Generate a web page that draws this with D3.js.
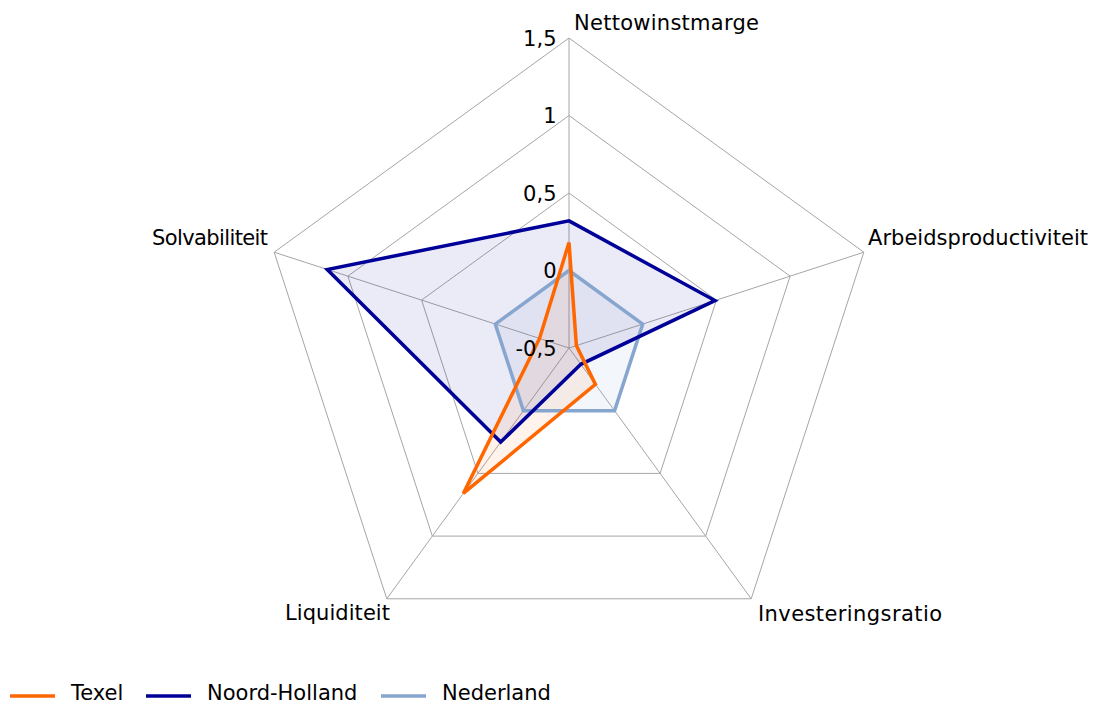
<!DOCTYPE html>
<html>
<head>
<meta charset="utf-8">
<script src="https://cdn.jsdelivr.net/npm/d3@7"></script>
<style>
  body { margin: 0; background: #fff; }
  text { font-family: "DejaVu Sans", Verdana, sans-serif; fill: #000; }
</style>
</head>
<body>
<svg></svg>
<script>
var axes = ["Nettowinstmarge", "Arbeidsproductiviteit", "Investeringsratio", "Liquiditeit", "Solvabiliteit"];
var texel = [0.18, -0.45, -0.21, 0.66, -0.30];
var noordHolland = [0.32, 0.49, -0.37, 0.25, 1.14];
var nederland = [0, 0, 0, 0, 0];
var tickValues = [-0.5, 0, 0.5, 1, 1.5];
var tickLabels = ["-0,5", "0", "0,5", "1", "1,5"];
var seriesNames = ["Texel", "Noord-Holland", "Nederland"];

var svgWidth = 1098, svgHeight = 706;
var cx = 569, cy = 348;
var fontSize = "21px";

var svg = d3.select("svg")
  .attr("width", svgWidth)
  .attr("height", svgHeight);

var r = d3.scaleLinear().domain([-0.5, 1.5]).range([0, 310]);
var angle = d3.scaleLinear().domain([0, axes.length]).range([0, 2 * Math.PI]);

function pt(v, i) {
  var a = angle(i);
  return [cx + r(v) * Math.sin(a), cy - r(v) * Math.cos(a)];
}

var g = svg.append("g");

// grid rings
tickValues.slice(1).forEach(function (t) {
  g.append("polygon")
    .attr("points", axes.map(function (d, i) { return pt(t, i); }).join(" "))
    .attr("fill", "none")
    .attr("stroke", "#a6a6a6")
    .attr("stroke-width", 1);
});

// spokes
g.selectAll("line.spoke")
  .data(axes)
  .enter()
  .append("line")
  .attr("class", "spoke")
  .attr("x1", cx).attr("y1", cy)
  .attr("x2", function (d, i) { return pt(1.5, i)[0]; })
  .attr("y2", function (d, i) { return pt(1.5, i)[1]; })
  .attr("stroke", "#a6a6a6")
  .attr("stroke-width", 1);

// series
var series = [
  { name: "Nederland", values: nederland, color: "#87a6cf", fill: "rgba(135,166,207,0.10)" },
  { name: "Noord-Holland", values: noordHolland, color: "#000099", fill: "rgba(0,0,153,0.08)" },
  { name: "Texel", values: texel, color: "#ff6600", fill: "rgba(255,102,0,0.08)" }
];

var line = d3.line().curve(d3.curveLinearClosed);

g.selectAll("path.area")
  .data(series)
  .enter()
  .append("path")
  .attr("d", function (s) { return line(s.values.map(pt)); })
  .attr("fill", function (s) { return s.fill; })
  .attr("stroke", "none");

g.selectAll("path.series")
  .data(series)
  .enter()
  .append("path")
  .attr("class", "series")
  .attr("d", function (s) { return line(s.values.map(pt)); })
  .attr("fill", "none")
  .attr("stroke", function (s) { return s.color; })
  .attr("stroke-width", 3.5)
  .attr("stroke-linejoin", "miter");

// tick labels
g.selectAll("text.tick")
  .data(tickValues)
  .enter()
  .append("text")
  .attr("x", cx - 12.5)
  .attr("y", function (d) { return cy - r(d) + 7.5; })
  .attr("text-anchor", "end")
  .attr("font-size", fontSize)
  .text(function (d, i) { return tickLabels[i]; });

// axis labels
var labelPos = [
  { x: 574, y: 29.5, w: 185 },
  { x: 868, y: 245, w: 220 },
  { x: 758, y: 620.5, w: 184 },
  { x: 285, y: 620, w: 105 },
  { x: 152, y: 245, w: 116 }
];
g.selectAll("text.axis")
  .data(axes)
  .enter()
  .append("text")
  .attr("x", function (d, i) { return labelPos[i].x; })
  .attr("y", function (d, i) { return labelPos[i].y; })
  .attr("textLength", function (d, i) { return labelPos[i].w; })
  .attr("lengthAdjust", "spacing")
  .attr("font-size", fontSize)
  .text(function (d) { return d; });

// legend
var legendColors = { "Texel": "#ff6600", "Noord-Holland": "#000099", "Nederland": "#87a6cf" };
var legendX = [10, 146, 381];
var legend = svg.selectAll("g.legend")
  .data(seriesNames)
  .enter()
  .append("g")
  .attr("transform", function (d, i) { return "translate(" + legendX[i] + ",696)"; });
legend.append("line")
  .attr("x1", 0).attr("x2", 45)
  .attr("stroke", function (d) { return legendColors[d]; })
  .attr("stroke-width", 3.5);
legend.append("text")
  .attr("x", 61)
  .attr("y", 4)
  .attr("font-size", fontSize)
  .text(function (d) { return d; });
</script>
</body>
</html>
